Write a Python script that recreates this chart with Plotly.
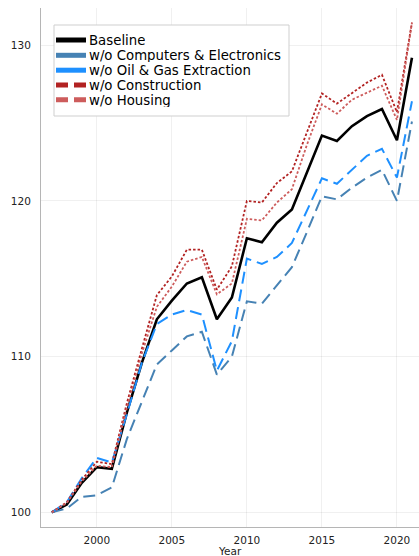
import plotly.graph_objects as go

# Index values (1997 = 100) per year
years = list(range(1997, 2022))
baseline = [100, 100.5, 101.9, 102.9, 102.8, 106.4, 109.6, 112.4, 113.6, 114.7, 115.1, 112.4, 113.8,
            117.6, 117.35, 118.6, 119.45, 121.8, 124.2, 123.85, 124.8, 125.45, 125.9, 123.9, 129.2]
wo_computers = [100, 100.25, 101.0, 101.1, 101.6, 104.7, 107.1, 109.5, 110.4, 111.3, 111.6, 108.85, 110.0,
                113.55, 113.4, 114.6, 115.75, 118.0, 120.3, 120.1, 120.85, 121.5, 122.0, 120.0, 125.1]
wo_oil_gas = [100, 100.65, 102.2, 103.5, 103.2, 106.3, 109.6, 112.1, 112.7, 113.0, 112.7, 109.1, 111.0,
              116.3, 115.95, 116.4, 117.3, 119.4, 121.45, 121.1, 122.0, 122.9, 123.35, 121.5, 126.4]
wo_construction = [100, 100.65, 102.1, 103.25, 103.1, 107.0, 110.5, 113.95, 115.15, 116.87, 116.87, 114.3, 115.8,
                   120.0, 119.9, 121.15, 121.9, 124.4, 126.9, 126.25, 126.95, 127.6, 128.1, 125.7, 131.45]
wo_housing = [100, 100.6, 102.0, 103.0, 102.9, 106.7, 110.2, 113.2, 114.5, 116.1, 116.4, 114.0, 114.7,
              118.85, 118.75, 119.9, 120.75, 123.6, 126.2, 125.6, 126.5, 126.95, 127.4, 125.2, 131.45]

names = ["Baseline", "w/o Computers & Electronics", "w/o Oil & Gas Extraction",
         "w/o Construction", "w/o Housing"]
series = [baseline, wo_computers, wo_oil_gas, wo_construction, wo_housing]
colors = ["#000000", "#4682B4", "#1E90FF", "#B22222", "#CD5C5C"]
widths = [2.6, 2, 2, 1.8, 1.8]
dashes = ["solid", "12px,6px", "12px,6px", "2.5px,2px", "2.5px,2px"]
legend_dashes = ["solid", "solid", "solid", "12px,6px", "12px,6px"]

x_ticks = [2000, 2005, 2010, 2015, 2020]
y_ticks = [100, 110, 120, 130]

W, H = 419, 556
L, R, T, B = 41, 0, 8, 29
plot_w, plot_h = W - L - R, H - T - B

fig = go.Figure()
for name, vals, col, w, d in zip(names, series, colors, widths, dashes):
    fig.add_trace(go.Scatter(x=years, y=vals, mode="lines", name=name, showlegend=False,
                             line=dict(color=col, width=w, dash=d)))


def px_x(px):
    return (px - L) / plot_w


def px_y(py):
    return (H - B - py) / plot_h


# Legend box drawn in pixel units of the plot area
shapes = [dict(type="rect", xref="paper", yref="paper",
               x0=px_x(54), x1=px_x(289), y0=px_y(116), y1=px_y(25),
               line=dict(color="#cfcfcf", width=1), fillcolor="white", layer="above")]
annotations = []
row_y = [40.0, 55.3, 70.2, 85.0, 99.8]
for name, col, d, ry in zip(names, colors, legend_dashes, row_y):
    shapes.append(dict(type="line", xref="paper", yref="paper",
                       x0=px_x(56), x1=px_x(86), y0=px_y(ry), y1=px_y(ry),
                       line=dict(color=col, width=5, dash=d), layer="above"))
    annotations.append(dict(xref="paper", yref="paper", x=px_x(86.5), y=px_y(ry),
                            text=name, showarrow=False, xanchor="left", yanchor="middle",
                            height=14, valign="middle",
                            font=dict(family="DejaVu Sans", size=13.3, color="#000000")))

annotations.append(dict(xref="paper", yref="paper", x=0.5, y=0, yanchor="top", yshift=-16,
                        text="Year", showarrow=False,
                        font=dict(family="DejaVu Sans", size=10.5, color="#222222")))

axis_common = dict(showgrid=True, gridcolor="rgba(0,0,0,0.06)", gridwidth=1,
                   zeroline=False, showline=True, linecolor="#b5b5b5", linewidth=1,
                   ticks="", tickfont=dict(family="DejaVu Sans", size=10.5, color="#222222"))

fig.update_layout(
    width=W, height=H,
    margin=dict(l=L, r=R, t=T, b=B),
    paper_bgcolor="white", plot_bgcolor="white",
    showlegend=False,
    shapes=shapes, annotations=annotations,
    xaxis=dict(range=[1996.28, 2021.47], tickvals=x_ticks, ticktext=[str(v) for v in x_ticks],
               mirror=False, ticklabelstandoff=3, **axis_common),
    yaxis=dict(range=[99.06, 132.39], tickvals=y_ticks, ticktext=[str(v) for v in y_ticks],
               mirror=False, ticklabelstandoff=7, **axis_common),
)

fig.write_html("out.html")
